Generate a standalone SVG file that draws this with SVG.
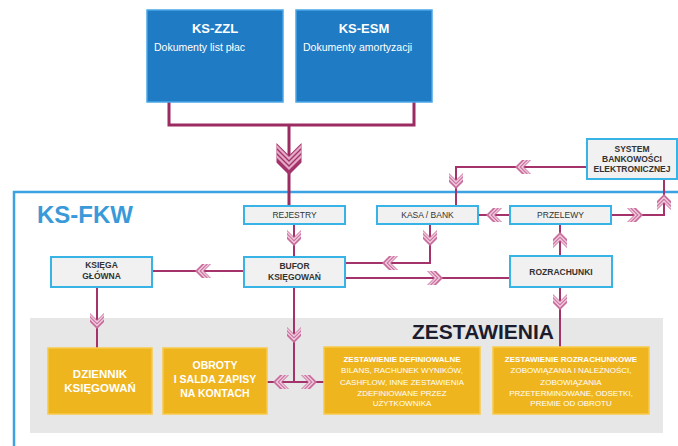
<svg xmlns="http://www.w3.org/2000/svg" xmlns:xlink="http://www.w3.org/1999/xlink" width="678" height="446" viewBox="0 0 678 446">
<style>
text{font-family:"Liberation Sans",Arial,sans-serif;}
.blue{fill:#1f7bc4;stroke:#4aa6e6;stroke-width:1.5;}
.node{fill:#f1f1f1;stroke:#38b3e6;stroke-width:2;}
.yel{fill:#efb51e;stroke:#f8ca4a;stroke-width:1.5;}
.lbl{font-size:8.5px;fill:#333;text-anchor:middle;}
.b{font-weight:bold;}
.wt{fill:#fff;text-anchor:middle;font-weight:bold;}
.sm{fill:#fff;text-anchor:middle;font-size:8px;}
.ln{fill:none;stroke:#a3336a;stroke-width:2;}
.lnt{fill:none;stroke:#9c2b62;stroke-width:3;}
</style>
<defs>
<clipPath id="cs"><polygon points="-7,-8 0,-1 7,-8 7,1 0,8 -7,1"/></clipPath>
<g id="chev">
<polygon points="-7,-8 0,-1 7,-8 7,1 0,8 -7,1" fill="#c96d9d"/>
<g clip-path="url(#cs)" fill="none" stroke="#efcadd" stroke-width="1.4">
<path d="M-8,-7 L0,1 L8,-7"/>
<path d="M-8,-3.5 L0,4.5 L8,-3.5"/>
</g>
</g>
<clipPath id="cb"><polygon points="-12.5,-16 0,-3.5 12.5,-16 12.5,3.5 0,16 -12.5,3.5"/></clipPath>
<g id="bigchev">
<polygon points="-12.5,-16 0,-3.5 12.5,-16 12.5,3.5 0,16 -12.5,3.5" fill="#a3336a"/>
<g clip-path="url(#cb)" fill="none" stroke="#e3a9c6" stroke-width="2.2">
<path d="M-13,-13.5 L0,-0.5 L13,-13.5"/>
<path d="M-13,-8.5 L0,4.5 L13,-8.5"/>
<path d="M-13,-3.5 L0,9.5 L13,-3.5"/>
</g>
</g>
</defs>
<rect width="678" height="446" fill="#ffffff"/>
<rect id="frame" x="14" y="192" width="700" height="300" fill="none" stroke="#3ca2e2" stroke-width="2.5"/>
<text x="37" y="223" font-size="24" font-weight="bold" fill="#3a9ad9">KS-FKW</text>
<rect id="zest-bg" x="30" y="318" width="633" height="115" fill="#e7e7e7"/>
<text x="483" y="339" font-size="21" font-weight="bold" fill="#1c1c2e" text-anchor="middle">ZESTAWIENIA</text>

<g id="connectors">
<path class="lnt" d="M169,102 V125 H414 V102 M289,125 V206"/>
<path class="ln" d="M294,224 V257"/>
<path class="ln" d="M244,271 H152"/>
<path class="ln" d="M430,224 V263 H345"/>
<path class="ln" d="M345,278 H510"/>
<path class="ln" d="M587,167 H456 V206"/>
<path class="ln" d="M510,215 H478"/>
<path class="ln" d="M611,215 H664 V179"/>
<path class="ln" d="M560,256 V224"/>
<path class="ln" d="M560,287 V347"/>
<path class="ln" d="M97,287 V348"/>
<path class="ln" d="M294,287 V382 M267,382 H324"/>
<use xlink:href="#bigchev" transform="translate(289,159)"/>
<use xlink:href="#chev" transform="translate(294,238)"/>
<use xlink:href="#chev" transform="translate(203,271) rotate(90)"/>
<use xlink:href="#chev" transform="translate(430,238)"/>
<use xlink:href="#chev" transform="translate(390,263) rotate(90)"/>
<use xlink:href="#chev" transform="translate(435,278) rotate(-90)"/>
<use xlink:href="#chev" transform="translate(523,167) rotate(90)"/>
<use xlink:href="#chev" transform="translate(456,181)"/>
<use xlink:href="#chev" transform="translate(494,215) rotate(90)"/>
<use xlink:href="#chev" transform="translate(635,215) rotate(-90)"/>
<use xlink:href="#chev" transform="translate(664,202) rotate(180)"/>
<use xlink:href="#chev" transform="translate(560,240) rotate(180)"/>
<use xlink:href="#chev" transform="translate(560,302)"/>
<use xlink:href="#chev" transform="translate(97,321)"/>
<use xlink:href="#chev" transform="translate(294,335)"/>
<use xlink:href="#chev" transform="translate(281,382) rotate(90)"/>
<use xlink:href="#chev" transform="translate(309,382) rotate(-90)"/>
</g>

<g id="ks-zzl">
<rect class="blue" x="147" y="10" width="136" height="92"/>
<text x="215" y="33" font-size="13" font-weight="bold" fill="#fff" text-anchor="middle">KS-ZZL</text>
<text x="154" y="51" font-size="10.5" fill="#fff">Dokumenty list płac</text>
</g>
<g id="ks-esm">
<rect class="blue" x="296" y="10" width="136" height="92"/>
<text x="364" y="33" font-size="13" font-weight="bold" fill="#fff" text-anchor="middle">KS-ESM</text>
<text x="303" y="51" font-size="10.5" fill="#fff">Dokumenty amortyzacji</text>
</g>
<g id="system">
<rect class="node" x="587" y="139" width="90" height="40"/>
<text class="lbl b" x="632" y="152">SYSTEM</text>
<text class="lbl b" x="632" y="162">BANKOWOŚCI</text>
<text class="lbl b" x="632" y="172">ELEKTRONICZNEJ</text>
</g>
<g id="rejestry">
<rect class="node" x="244" y="206" width="101" height="18"/>
<text class="lbl" x="294.5" y="218">REJESTRY</text>
</g>
<g id="kasa">
<rect class="node" x="377" y="206" width="101" height="18"/>
<text class="lbl" x="427.5" y="218">KASA / BANK</text>
</g>
<g id="przelewy">
<rect class="node" x="510" y="206" width="101" height="18"/>
<text class="lbl" x="560.5" y="218">PRZELEWY</text>
</g>
<g id="ksiega">
<rect class="node" x="51" y="257" width="101" height="30"/>
<text class="lbl b" x="101.5" y="268">KSIĘGA</text>
<text class="lbl b" x="101.5" y="279">GŁÓWNA</text>
</g>
<g id="bufor">
<rect class="node" x="244" y="257" width="101" height="30"/>
<text class="lbl b" x="294.5" y="269">BUFOR</text>
<text class="lbl b" x="294.5" y="280">KSIĘGOWAŃ</text>
</g>
<g id="rozrachunki">
<rect class="node" x="510" y="256" width="102" height="31"/>
<text class="lbl b" x="561" y="275">ROZRACHUNKI</text>
</g>
<g id="dziennik">
<rect class="yel" x="48" y="348" width="104" height="66"/>
<text class="wt" x="100" y="378" font-size="11.5">DZIENNIK</text>
<text class="wt" x="100" y="392" font-size="11.5">KSIĘGOWAŃ</text>
</g>
<g id="obroty">
<rect class="yel" x="163" y="348" width="104" height="66"/>
<text class="wt" x="215" y="369" font-size="10.5">OBROTY</text>
<text class="wt" x="215" y="383" font-size="10.5">I SALDA ZAPISY</text>
<text class="wt" x="215" y="397" font-size="10.5">NA KONTACH</text>
</g>
<g id="zest-def">
<rect class="yel" x="324" y="347" width="156" height="67"/>
<text class="sm b" x="402" y="362">ZESTAWIENIE DEFINIOWALNE</text>
<text class="sm" x="402" y="373">BILANS, RACHUNEK WYNIKÓW,</text>
<text class="sm" x="402" y="384.5">CASHFLOW, INNE ZESTAWIENIA</text>
<text class="sm" x="402" y="395.5">ZDEFINIOWANE PRZEZ</text>
<text class="sm" x="402" y="406">UŻYTKOWNIKA</text>
</g>
<g id="zest-roz">
<rect class="yel" x="493" y="347" width="156" height="67"/>
<text class="sm b" x="571" y="362">ZESTAWIENIE ROZRACHUNKOWE</text>
<text class="sm" x="571" y="373">ZOBOWIĄZANIA I NALEŻNOŚCI,</text>
<text class="sm" x="571" y="384.5">ZOBOWIĄZANIA</text>
<text class="sm" x="571" y="395.5">PRZETERMINOWANE, ODSETKI,</text>
<text class="sm" x="571" y="406">PREMIE OD OBROTU</text>
</g>
</svg>
